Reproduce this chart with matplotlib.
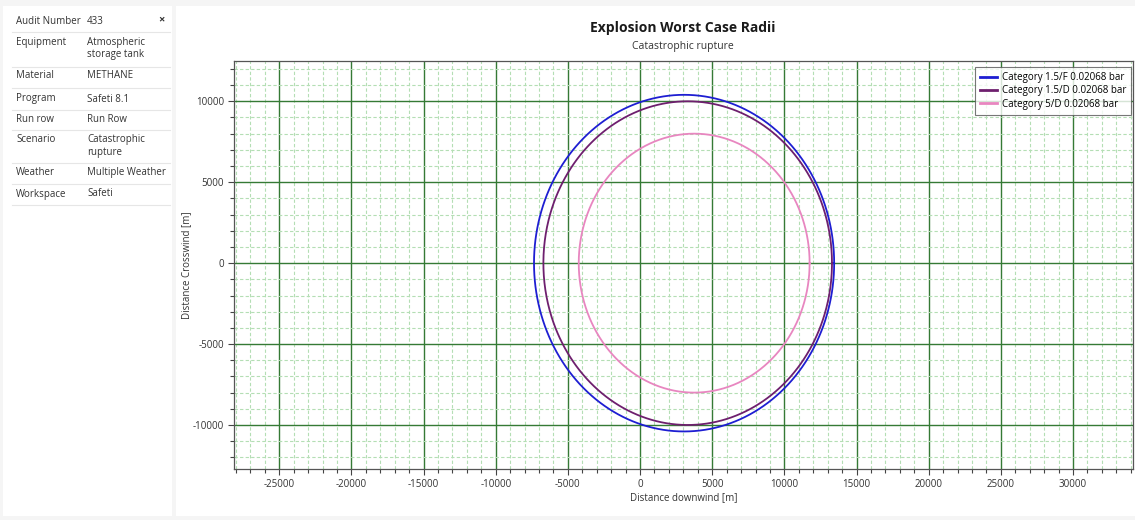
import numpy as np
import matplotlib
matplotlib.use("Agg")
import matplotlib.pyplot as plt
from matplotlib.patches import Rectangle
from matplotlib.ticker import MultipleLocator

plt.rcParams['font.family'] = ['Open Sans', 'DejaVu Sans']
plt.rcParams['axes.unicode_minus'] = False

# Worst-case explosion radii (overpressure 0.02068 bar), circle centre downwind and radius [m]
series_labels = ["Category 1.5/F 0.02068 bar",
                 "Category 1.5/D 0.02068 bar",
                 "Category 5/D 0.02068 bar"]
center_downwind = [3050, 3300, 3750]
radius = [10400, 10000, 8000]
series_colors = ["#1e1ed2", "#6e1f6e", "#e886c0"]

# Run details shown in the side panel
info_keys = ["Audit Number", "Equipment", "Material", "Program", "Run row",
             "Scenario", "Weather", "Workspace"]
info_values = ["433", "Atmospheric\nstorage tank", "METHANE", "Safeti 8.1", "Run Row",
               "Catastrophic\nrupture", "Multiple Weather", "Safeti"]

W, H = 1135, 520
fig = plt.figure(figsize=(W / 100, H / 100), dpi=100, facecolor="#f5f5f5")

def fx(px):
    return px / W

def fy(py):
    return 1 - py / H

# white panels behind the table and the chart
for x0, x1 in [(3, 172), (176, W)]:
    fig.add_artist(Rectangle((fx(x0), fy(516)), fx(x1 - x0), (516 - 6) / H,
                             transform=fig.transFigure, facecolor="white",
                             edgecolor="none", zorder=-10))

# side panel table
row_y = [21, 43, 76, 99, 119, 140, 173, 194]
sep_y = [32, 67, 88, 110, 130, 163, 184, 205]
for k, v, y in zip(info_keys, info_values, row_y):
    fig.text(fx(16), fy(y), k, fontsize=7, color="#333333", va="center", ha="left")
    fig.text(fx(87), fy(y), v.split("\n")[0], fontsize=7, color="#333333",
             va="center", ha="left")
    if "\n" in v:
        fig.text(fx(87), fy(y + 12), v.split("\n")[1], fontsize=7, color="#333333",
                 va="center", ha="left")
for y in sep_y:
    fig.add_artist(plt.Line2D([fx(12), fx(170)], [fy(y), fy(y)],
                              transform=fig.transFigure, color="#e6e6e6", lw=0.8))
fig.text(fx(161), fy(20), "×", fontsize=8, fontweight="bold", color="#333333",
         va="center", ha="center")

# chart axes
ax = fig.add_axes([fx(234), fy(469), fx(1133 - 234), (469 - 61) / H])
ax.set_facecolor("white")

theta = np.linspace(0, 2 * np.pi, 721)
for lab, cx, r, c in zip(series_labels, center_downwind, radius, series_colors):
    ax.plot(cx + r * np.cos(theta), r * np.sin(theta), color=c, lw=1.3,
            label=lab, zorder=3)

ax.set_xlim(-28140, 34160)
ax.set_ylim(-12720, 12490)

ax.xaxis.set_major_locator(MultipleLocator(5000))
ax.xaxis.set_minor_locator(MultipleLocator(1000))
ax.yaxis.set_major_locator(MultipleLocator(5000))
ax.yaxis.set_minor_locator(MultipleLocator(1000))

ax.grid(which="minor", color="#b4deb4", lw=0.8, ls=(0, (3, 2)), zorder=0)
ax.grid(which="major", color="#357a35", lw=1.0, zorder=1)
ax.set_axisbelow(True)

ax.tick_params(which="major", length=4, width=0.8, color="#444444",
               labelsize=7, labelcolor="#333333", pad=3)
ax.tick_params(which="minor", length=3, width=0.8, color="#444444")
for s in ax.spines.values():
    s.set_color("#555555")
    s.set_linewidth(0.9)

ax.set_xlabel("Distance downwind [m]", fontsize=7, color="#333333", labelpad=2)
ax.set_ylabel("Distance Crosswind [m]", fontsize=7, color="#333333", labelpad=1)

fig.text(fx(683), fy(28), "Explosion Worst Case Radii", fontsize=10,
         fontweight="bold", color="#1a1a1a", ha="center", va="center")
fig.text(fx(683), fy(47), "Catastrophic rupture", fontsize=7.5,
         color="#333333", ha="center", va="center")

leg = ax.legend(loc="upper right", bbox_to_anchor=(0.998, 0.985), fontsize=7,
                frameon=True, fancybox=False, edgecolor="#555555",
                handlelength=1.8, handletextpad=0.5, borderpad=0.5,
                labelspacing=0.25, borderaxespad=0)
leg.get_frame().set_linewidth(0.8)
for line in leg.get_lines():
    line.set_linewidth(2.0)

fig.savefig("out.png", dpi=100, facecolor=fig.get_facecolor())
